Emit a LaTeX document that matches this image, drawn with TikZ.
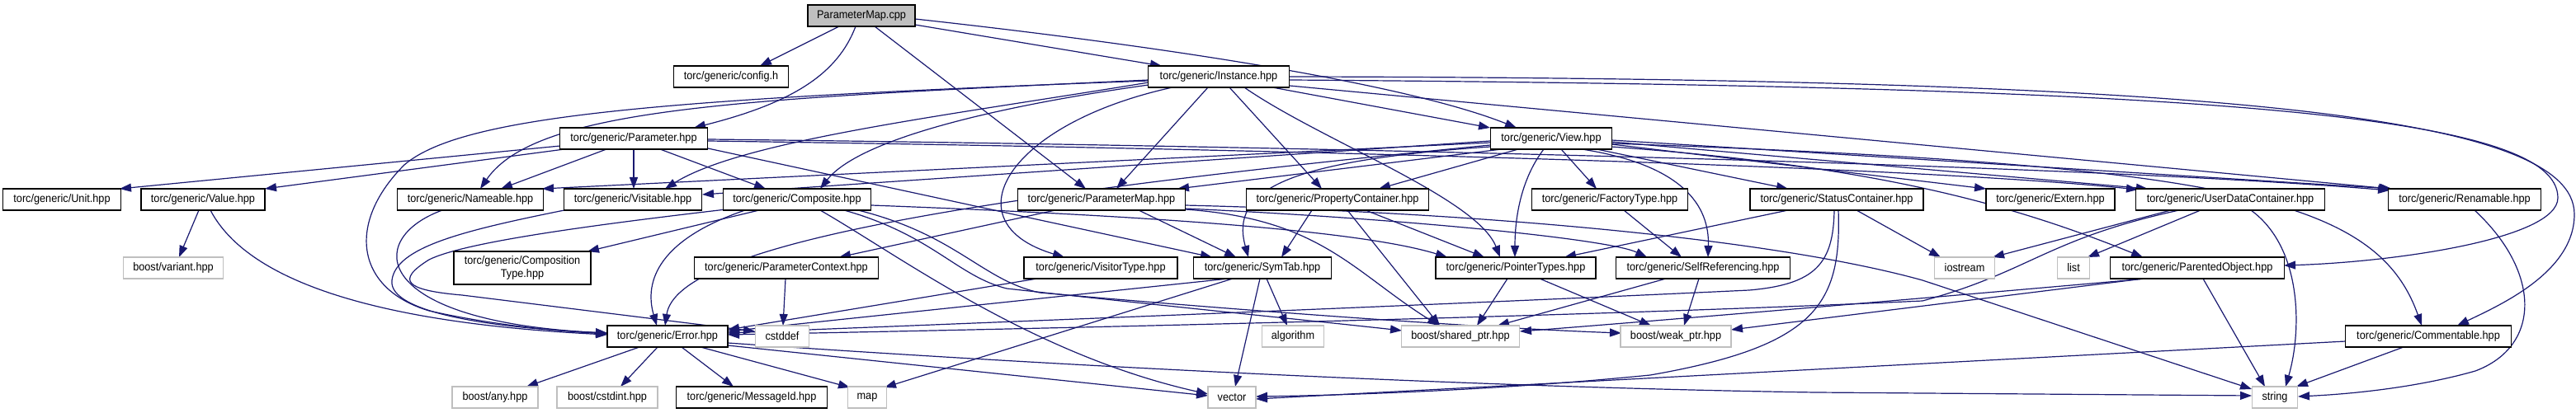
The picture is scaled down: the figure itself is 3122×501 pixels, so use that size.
\documentclass[tikz,border=0pt]{standalone}
\usepackage{fontspec}
\setmainfont{Liberation Sans}[FakeStretch=0.92]
\usetikzlibrary{arrows.meta,calc}
\definecolor{eblue}{HTML}{191970}
\definecolor{lgray}{HTML}{BFBFBF}
\pgfdeclarelayer{bg}
\pgfsetlayers{bg,main}
\begin{document}
\begin{tikzpicture}[x=0.5pt,y=-0.5pt,
  nbox/.style={draw=black,line width=0.6pt,fill=white,minimum height=13pt,inner sep=0pt,
    font=\fontsize{6.9}{8}\selectfont,align=center},
  gnbox/.style={nbox,draw=lgray},
  bw/.style={minimum width=#1*0.5pt},
  lnk/.style={draw=eblue,line width=0.6pt,-{Triangle[length=7pt,width=5pt]}}]
\useasboundingbox (0,0) rectangle (3122,501);
% row 1
\node[nbox,bw=130,fill=lgray] (cpp) at (1044,19) {ParameterMap.cpp};
% row 2
\node[nbox,bw=139] (config) at (886,93) {torc/generic/config.h};
\node[nbox,bw=171] (inst) at (1477,93) {torc/generic/Instance.hpp};
% row 3
\node[nbox,bw=179] (param) at (768,168) {torc/generic/Parameter.hpp};
\node[nbox,bw=147] (view) at (1880,168) {torc/generic/View.hpp};
% row 4
\node[nbox,bw=143] (unit) at (75,242) {torc/generic/Unit.hpp};
\node[nbox,bw=150] (value) at (246,242) {torc/generic/Value.hpp};
\node[nbox,bw=177] (nameable) at (570,242) {torc/generic/Nameable.hpp};
\node[nbox,bw=167] (visitable) at (767,242) {torc/generic/Visitable.hpp};
\node[nbox,bw=179] (composite) at (966,242) {torc/generic/Composite.hpp};
\node[nbox,bw=203] (pmhpp) at (1335,242) {torc/generic/ParameterMap.hpp};
\node[nbox,bw=221] (propcont) at (1621,242) {torc/generic/PropertyContainer.hpp};
\node[nbox,bw=189] (factory) at (1951,242) {torc/generic/FactoryType.hpp};
\node[nbox,bw=210] (status) at (2226,242) {torc/generic/StatusContainer.hpp};
\node[nbox,bw=156] (extern) at (2485,242) {torc/generic/Extern.hpp};
\node[nbox,bw=229] (userdata) at (2703,242) {torc/generic/UserDataContainer.hpp};
\node[nbox,bw=185] (renamable) at (2987,242) {torc/generic/Renamable.hpp};
% row 5
\node[gnbox,bw=121] (variant) at (210,325) {boost/variant.hpp};
\node[nbox,bw=166,minimum height=20pt] (comptype) at (633,325) {torc/generic/Composition\\Type.hpp};
\node[nbox,bw=223] (paramctx) at (953,325) {torc/generic/ParameterContext.hpp};
\node[nbox,bw=186] (visitortype) at (1334,325) {torc/generic/VisitorType.hpp};
\node[nbox,bw=167] (symtab) at (1530,325) {torc/generic/SymTab.hpp};
\node[nbox,bw=194] (pointer) at (1837,325) {torc/generic/PointerTypes.hpp};
\node[nbox,bw=211] (selfref) at (2064,325) {torc/generic/SelfReferencing.hpp};
\node[gnbox,bw=73] (iostream) at (2381,325) {iostream};
\node[gnbox,bw=39] (list) at (2513,325) {list};
\node[nbox,bw=211] (parented) at (2663,325) {torc/generic/ParentedObject.hpp};
% row 6
\node[nbox,bw=146] (error) at (809,408) {torc/generic/Error.hpp};
\node[gnbox,bw=65] (cstddef) at (948,408) {cstddef};
\node[gnbox,bw=75] (algorithm) at (1567,408) {algorithm};
\node[gnbox,bw=143] (shared) at (1770,408) {boost/shared\_ptr.hpp};
\node[gnbox,bw=134] (weak) at (2031,408) {boost/weak\_ptr.hpp};
\node[nbox,bw=201] (commentable) at (2943,408) {torc/generic/Commentable.hpp};
% row 7
\node[gnbox,bw=104] (any) at (600,482) {boost/any.hpp};
\node[gnbox,bw=122] (cstdint) at (736,482) {boost/cstdint.hpp};
\node[nbox,bw=183] (messageid) at (911,482) {torc/generic/MessageId.hpp};
\node[gnbox,bw=47] (map) at (1051,482) {map};
\node[gnbox,bw=58] (vector) at (1493,482) {vector};
\node[gnbox,bw=55] (string) at (2757,482) {string};

\begin{pgfonlayer}{bg}
% cpp
\draw[lnk] ($(cpp)+(-27,13)$) -- ($(config)+(35,-13)$);
\draw[lnk] ($(cpp)+(-7,13)$) .. controls (1015,90) and (960,125) .. ($(param)+(73,-13)$);
\draw[lnk] ($(cpp)+(16,13)$) -- ($(pmhpp)+(-19,-13)$);
\draw[lnk] ($(cpp)+(65,11)$) -- ($(inst)+(-69,-13)$);
\draw[lnk] ($(cpp)+(65,4)$) .. controls (1400,55) and (1700,100) .. ($(view)+(-42,-13)$);
% inst
\draw[lnk] ($(inst)+(65,13)$) -- ($(view)+(-74,-13)$);
\draw[lnk] ($(inst)+(-13,13)$) -- ($(pmhpp)+(18,-13)$);
\draw[lnk] ($(inst)+(13,13)$) -- ($(propcont)+(-19,-13)$);
\draw[lnk] ($(inst)+(31,13)$) .. controls (1600,170) and (1790,240) .. ($(pointer)+(-19,-13)$);
\draw[lnk] ($(inst)+(-56,13)$) .. controls (1220,150) and (1150,270) .. ($(visitortype)+(-44,-13)$);
\draw[lnk] ($(inst)+(-85,7)$) .. controls (1150,140) and (900,170) .. ($(visitable)+(39,-13)$);
\draw[lnk] ($(inst)+(-85,10)$) .. controls (1200,130) and (1040,170) .. ($(composite)+(28,-13)$);
\draw[lnk] ($(inst)+(-85,4)$) .. controls (900,120) and (650,130) .. ($(nameable)+(12,-13)$);
\draw[lnk] ($(inst)+(-85,5)$) .. controls (800,120) and (560,140) .. (490,200)
   .. controls (420,270) and (430,350) .. (520,377) .. controls (600,395) and (680,402) .. ($(error)+(-73,-3)$);
\draw[lnk] ($(inst)+(86,11)$) -- ($(renamable)+(-90,-13)$);
\draw[lnk] ($(inst)+(86,4)$) .. controls (2700,105) and (3100,140) .. (3100,240)
   .. controls (3100,290) and (2900,318) .. ($(parented)+(105,-3)$);
\draw[lnk] ($(inst)+(86,0)$) .. controls (2700,95) and (3120,140) .. (3120,260)
   .. controls (3120,330) and (3030,370) .. ($(commentable)+(35,-13)$);
% param
\draw[lnk] ($(param)+(-89,9)$) -- ($(unit)+(70,-13)$);
\draw[lnk] ($(param)+(-84,13)$) -- ($(value)+(75,-13)$);
\draw[lnk] ($(param)+(-33,13)$) -- ($(nameable)+(37,-13)$);
\draw[lnk] ($(param)+(0,13)$) -- ($(visitable)+(1,-13)$);
\draw[lnk] ($(param)+(32,13)$) -- ($(composite)+(-38,-13)$);
\draw[lnk] ($(param)+(90,3)$) .. controls (1500,180) and (2300,200) .. ($(userdata)+(-112,-12)$);
\draw[lnk] ($(param)+(90,1)$) .. controls (1500,176) and (2500,198) .. ($(renamable)+(-91,-11)$);
\draw[lnk] ($(param)+(90,12)$) -- ($(symtab)+(-61,-13)$);
% view
\draw[lnk] ($(view)+(-74,5)$) -- ($(nameable)+(87,-13)$);
\draw[lnk] ($(view)+(-74,3)$) -- ($(visitable)+(84,-6)$);
\draw[lnk] ($(view)+(-74,8)$) .. controls (1150,240) and (820,300) .. ($(error)+(-3,-13)$);
\draw[lnk] ($(view)+(-60,13)$) -- ($(pmhpp)+(92,-13)$);
\draw[lnk] ($(view)+(-40,13)$) -- ($(propcont)+(50,-13)$);
\draw[lnk] ($(view)+(-74,10)$) .. controls (1560,195) and (1490,230) .. ($(symtab)+(-17,-13)$);
\draw[lnk] ($(view)+(-9,13)$) .. controls (1845,215) and (1836,260) .. ($(pointer)+(-1,-13)$);
\draw[lnk] ($(view)+(12,13)$) -- ($(factory)+(-16,-13)$);
\draw[lnk] ($(view)+(37,13)$) .. controls (2040,200) and (2072,250) .. ($(selfref)+(6,-13)$);
\draw[lnk] ($(view)+(55,13)$) -- ($(status)+(-59,-13)$);
\draw[lnk] ($(view)+(73,7)$) -- ($(extern)+(-78,-13)$);
\draw[lnk] ($(view)+(73,4)$) -- ($(userdata)+(-100,-13)$);
\draw[lnk] ($(view)+(73,2)$) -- ($(renamable)+(-88,-13)$);
\draw[lnk] ($(view)+(73,10)$) .. controls (2250,200) and (2420,240) .. ($(parented)+(-66,-13)$);
\draw[lnk] ($(view)+(73,6)$) .. controls (2700,200) and (2880,240) .. ($(commentable)+(-8,-13)$);
% row 4 sources
\draw[lnk] ($(value)+(-5,13)$) -- ($(variant)+(7,-13)$);
\draw[lnk] ($(value)+(9,13)$) .. controls (310,360) and (520,395) .. ($(error)+(-73,-2)$);
\draw[lnk] ($(nameable)+(-34,13)$) .. controls (440,290) and (450,390) .. ($(error)+(-73,-4)$);
\draw[lnk] ($(visitable)+(-83,13)$) .. controls (560,280) and (480,300) .. (475,340)
   .. controls (470,380) and (600,398) .. ($(error)+(-73,-4)$);
\draw[lnk] ($(composite)+(-63,13)$) .. controls (800,290) and (780,340) .. ($(error)+(-13,-13)$);
\draw[lnk] ($(composite)+(-46,13)$) -- ($(comptype)+(79,-20)$);
\draw[lnk] ($(composite)+(-86,12)$) .. controls (700,275) and (560,295) .. (520,315)
   .. controls (480,340) and (490,352) .. (560,358) -- ($(cstddef)+(-33,-6)$);
\draw[lnk] ($(composite)+(28,13)$) .. controls (1090,310) and (1250,430) .. ($(vector)+(-29,-4)$);
\draw[lnk] ($(composite)+(57,13)$) .. controls (1130,285) and (1160,335) .. (1220,350)
   .. controls (1400,370) and (1600,390) .. ($(shared)+(-71,-7)$);
\draw[lnk] ($(composite)+(74,13)$) .. controls (1160,285) and (1190,340) .. (1260,355)
   .. controls (1600,385) and (1850,400) .. ($(weak)+(-66,-4)$);
\draw[lnk] ($(composite)+(90,7)$) .. controls (1400,262) and (1650,280) .. ($(pointer)+(-83,-13)$);
\draw[lnk] ($(pmhpp)+(-56,13)$) -- ($(paramctx)+(64,-13)$);
\draw[lnk] ($(pmhpp)+(45,13)$) -- ($(symtab)+(-32,-13)$);
\draw[lnk] ($(pmhpp)+(101,11)$) .. controls (1700,265) and (1950,290) .. ($(selfref)+(-68,-13)$);
\draw[lnk] ($(pmhpp)+(101,12)$) .. controls (1600,265) and (1640,330) .. ($(shared)+(-26,-13)$);
\draw[lnk] ($(pmhpp)+(101,7)$) .. controls (1800,258) and (2150,290) .. (2330,340) -- ($(string)+(-28,-10)$);
\draw[lnk] ($(propcont)+(-31,13)$) -- ($(symtab)+(23,-13)$);
\draw[lnk] ($(propcont)+(12,13)$) -- ($(shared)+(-25,-13)$);
\draw[lnk] ($(propcont)+(34,13)$) -- ($(pointer)+(-38,-13)$);
\draw[lnk] ($(factory)+(17,13)$) -- ($(selfref)+(-26,-13)$);
\draw[lnk] ($(status)+(-59,13)$) -- ($(pointer)+(59,-13)$);
\draw[lnk] ($(status)+(24,13)$) -- ($(iostream)+(-29,-13)$);
\draw[lnk] ($(status)+(-3,13)$) .. controls (2222,320) and (2200,345) .. (2120,352)
   .. controls (1700,372) and (1100,395) .. ($(error)+(73,-4)$);
\draw[lnk] ($(status)+(2,13)$) .. controls (2232,370) and (2200,420) .. (2000,455)
   .. controls (1800,475) and (1600,480) .. ($(vector)+(29,-1)$);
\draw[lnk] ($(userdata)+(-72,13)$) -- ($(iostream)+(34,-13)$);
\draw[lnk] ($(userdata)+(-36,13)$) -- ($(list)+(17,-13)$);
\draw[lnk] ($(userdata)+(25,13)$) .. controls (2790,300) and (2790,400) .. ($(string)+(13,-13)$);
\draw[lnk] ($(userdata)+(-62,13)$) .. controls (2480,290) and (2460,330) .. (2330,365)
   .. controls (1900,385) and (1200,400) .. ($(error)+(73,-2)$);
\draw[lnk] ($(renamable)+(12,13)$) .. controls (3080,330) and (3080,420) .. (3000,450)
   .. controls (2930,470) and (2850,478) .. ($(string)+(28,-1)$);
% row 5 sources
\draw[lnk] ($(parented)+(-62,13)$) .. controls (2400,356) and (2000,390) .. ($(shared)+(72,-6)$);
\draw[lnk] ($(parented)+(-65,13)$) -- ($(weak)+(67,-8)$);
\draw[lnk] ($(parented)+(7,13)$) -- ($(string)+(-12,-13)$);
\draw[lnk] ($(paramctx)+(-1,13)$) -- ($(cstddef)+(1,-13)$);
\draw[lnk] ($(visitortype)+(-77,13)$) -- ($(error)+(73,-8)$);
\draw[lnk] ($(symtab)+(-41,13)$) -- ($(error)+(73,-6)$);
\draw[lnk] ($(symtab)+(-36,13)$) -- ($(map)+(21,-12)$);
\draw[lnk] ($(symtab)+(-3,13)$) -- ($(vector)+(4,-13)$);
\draw[lnk] ($(symtab)+(5,13)$) -- ($(algorithm)+(-7,-13)$);
\draw[lnk] ($(pointer)+(-10,13)$) -- ($(shared)+(20,-13)$);
\draw[lnk] ($(pointer)+(29,13)$) -- ($(weak)+(-30,-13)$);
\draw[lnk] ($(selfref)+(-45,13)$) -- ($(shared)+(45,-13)$);
\draw[lnk] ($(selfref)+(-5,13)$) -- ($(weak)+(10,-13)$);
\draw[lnk] ($(commentable)+(-100,6)$) -- ($(vector)+(29,2)$);
\draw[lnk] ($(commentable)+(-30,13)$) -- ($(string)+(26,-13)$);
% error
\draw[lnk] ($(error)+(-34,13)$) -- ($(any)+(38,-13)$);
\draw[lnk] ($(error)+(-12,13)$) -- ($(cstdint)+(16,-13)$);
\draw[lnk] ($(error)+(17,13)$) -- ($(messageid)+(-22,-13)$);
\draw[lnk] ($(error)+(40,13)$) -- ($(map)+(-21,-12)$);
\draw[lnk] ($(error)+(73,11)$) -- ($(vector)+(-29,-2)$);
\draw[lnk] ($(error)+(73,8)$) .. controls (1300,445) and (1800,470) .. (2200,476) -- ($(string)+(-28,-2)$);
\end{pgfonlayer}
\end{tikzpicture}
\end{document}
